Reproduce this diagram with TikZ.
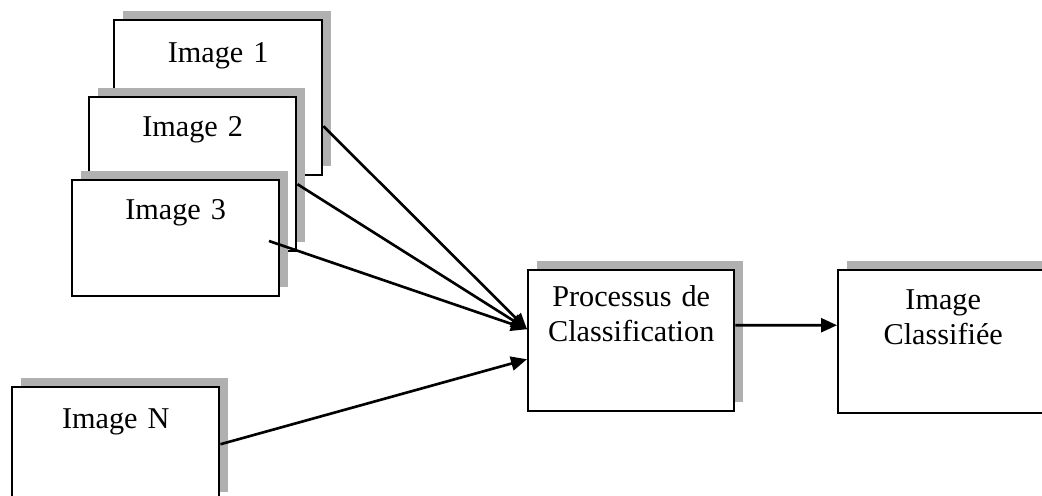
\documentclass[tikz,border=0pt]{standalone}
\usepackage{fontspec}
\setmainfont{Liberation Serif}
\usepackage{tikz}
\usetikzlibrary{arrows.meta,shadows}

\begin{document}
\begin{tikzpicture}[>={Triangle[length=0.32cm,width=0.28cm]},
  imgbox/.style={draw,fill=white,line width=1.4pt,inner sep=0pt,text width=4.14cm,align=center,
    font=\fontsize{17.2}{20}\selectfont,anchor=north west,
    general shadow={fill=gray!62,shadow xshift=0.17cm,shadow yshift=0.18cm}},
  arr/.style={->,line width=1.5pt}]
\useasboundingbox (0,0) rectangle (20.84,9.9);

\node[imgbox,text width=4.16cm,text height=0.84cm,text depth=2.26cm] (img1) at (2.26,9.52) {Image 1};
\node[imgbox,text height=0.78cm,text depth=2.30cm] (img2) at (1.76,7.98) {Image 2};
\node[imgbox,text height=0.78cm,text depth=1.54cm] (img3) at (1.42,6.32) {Image 3};
\node[imgbox,text height=0.82cm,text depth=1.46cm] (imgN) at (0.22,2.18) {Image N};

\node[imgbox,text width=4.12cm,text height=0.72cm,text depth=2.10cm] (proc) at (10.54,4.52) {Processus de\\Classification};
\node[imgbox,text width=4.2cm,text height=0.78cm,text depth=2.08cm] (res) at (16.74,4.52) {Image\\Classifiée};

\coordinate (c3) at (5.38,5.08);
\draw[arr] ([yshift=-0.57cm]img1.east) -- ([yshift=0.23cm]proc.west);
\draw[arr] ([yshift=-0.2cm]img2.east) -- ([yshift=0.23cm]proc.west);
\draw[arr] (c3) -- ([yshift=0.23cm]proc.west);
\draw[arr] (imgN.east) -- ([yshift=-0.37cm]proc.west);
\draw[arr] ([yshift=0.31cm]proc.east) -- ([yshift=0.33cm]res.west);
\end{tikzpicture}
\end{document}
